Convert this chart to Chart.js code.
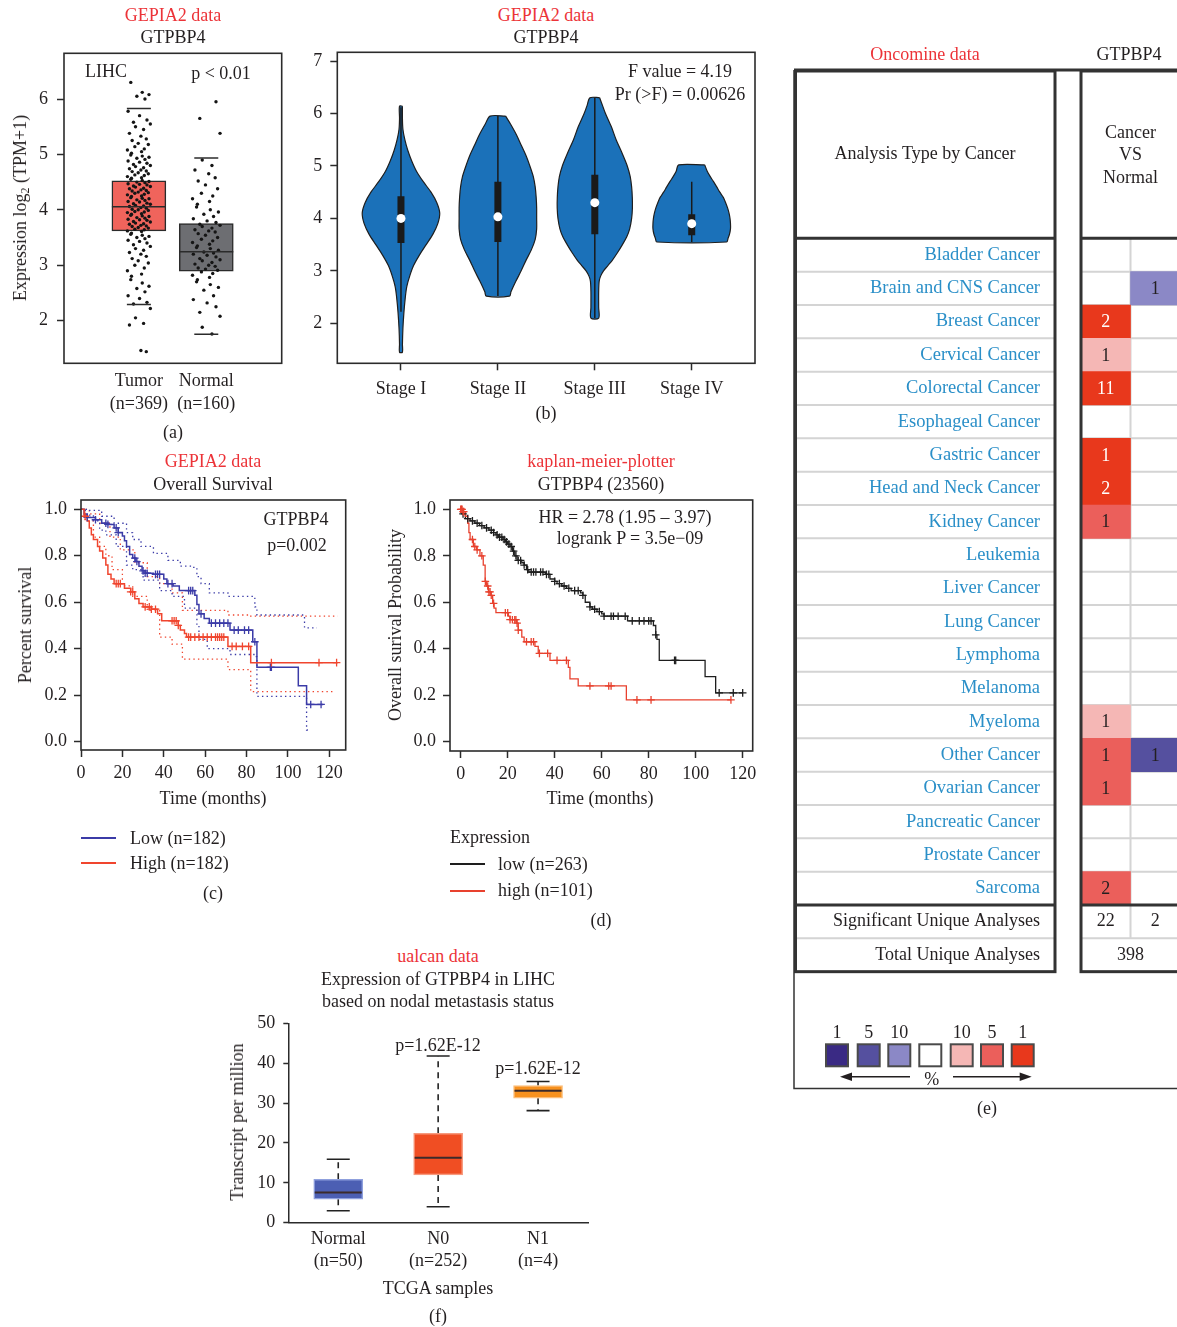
<!DOCTYPE html>
<html lang="en">
<head>
<meta charset="UTF-8">
<meta name="viewport" content="width=device-width, initial-scale=1.0">
<title>GTPBP4 - expression, stage, survival and Oncomine panels</title>
<script src="https://cdn.jsdelivr.net/npm/chart.js"></script>
<style>
  body { margin: 0; width: 1177px; height: 1327px; overflow: hidden; position: relative; background: #fff; color: #231f20; font-family: 'Liberation Serif', 'Times New Roman', serif; }
  canvas { position: absolute; }
  .t { position: absolute; white-space: nowrap; font-size: 18px; line-height: 1; transform: translate(-50%, -50%); }
  .t.left { transform: translate(0, -50%); }
  .t.rot { transform: translate(-50%, -50%) rotate(-90deg); }
  .t.src { color: #ec3338; }
  .t sub { font-size: 12px; vertical-align: -3px; line-height: 0; }
  .key { position: absolute; height: 2px; width: 35px; margin-top: -1px; }
</style>
</head>
<body>
<script>
// ---------- (a) GEPIA2 LIHC box plot ----------
const aGroups = [['Tumor', '(n=369)'], ['Normal', '(n=160)']];
const aYTicks = [2, 3, 4, 5, 6];
const aQ1 = [3.62, 2.895];
const aMedian = [4.055, 3.245];
const aQ3 = [4.525, 3.75];
const aLow = [2.29, 1.755];
const aHigh = [5.83, 4.935];
const tumorExpr = [
  6.30, 6.12, 6.08, 6.05, 6.00,
  5.78, 5.70, 5.62, 5.58, 5.55, 5.50, 5.45, 5.38, 5.33,
  5.28, 5.25, 5.20, 5.18, 5.14, 5.10, 5.08, 5.05, 5.02, 4.99, 4.97, 4.95, 4.93, 4.91,
  4.88, 4.86, 4.84, 4.82, 4.80, 4.78, 4.76, 4.74, 4.72, 4.70, 4.69, 4.67, 4.65, 4.63, 4.62, 4.60, 4.58, 4.57, 4.55, 4.53,
  4.51, 4.50, 4.49, 4.47, 4.46, 4.45, 4.43, 4.42, 4.41, 4.39, 4.38, 4.36, 4.35, 4.34, 4.32, 4.31, 4.30, 4.28, 4.27, 4.25,
  4.24, 4.22, 4.21, 4.20, 4.18, 4.17, 4.15, 4.14, 4.12, 4.11, 4.10, 4.08, 4.07, 4.06,
  4.04, 4.03, 4.01, 4.00, 3.99, 3.97, 3.96, 3.95, 3.93, 3.92, 3.90, 3.89, 3.88, 3.86, 3.85, 3.83, 3.82, 3.81, 3.79, 3.78,
  3.76, 3.75, 3.74, 3.72, 3.71, 3.70, 3.68, 3.67, 3.65, 3.64, 3.62, 3.61,
  3.58, 3.56, 3.54, 3.52, 3.50, 3.48, 3.45, 3.43, 3.40, 3.37, 3.34, 3.30, 3.27, 3.23, 3.20, 3.16, 3.12, 3.08, 3.04, 3.00,
  2.95, 2.90, 2.84, 2.80, 2.74, 2.68, 2.62, 2.58, 2.52, 2.45, 2.40, 2.33, 2.30,
  2.22, 2.05, 1.95, 1.92, 1.46, 1.44
];
const normalExpr = [
  5.95, 5.65, 5.38,
  4.90, 4.80, 4.72, 4.65, 4.58, 4.52, 4.45, 4.38, 4.30, 4.25, 4.20, 4.15, 4.10, 4.05, 4.00, 3.96, 3.92, 3.88, 3.84, 3.80, 3.77,
  3.74, 3.72, 3.70, 3.67, 3.64, 3.62, 3.60, 3.57, 3.54, 3.50, 3.47, 3.44, 3.41, 3.38, 3.35, 3.32, 3.30, 3.27,
  3.24, 3.22, 3.20, 3.18, 3.15, 3.12, 3.10, 3.08, 3.05, 3.02, 3.00, 2.98, 2.95, 2.93, 2.91,
  2.88, 2.85, 2.82, 2.78, 2.74, 2.70, 2.65, 2.60, 2.55, 2.45, 2.38, 2.32, 2.25, 2.15, 2.08, 1.88, 1.76
];

// ---------- (b) violin plot by stage ----------
const stages = ['Stage I', 'Stage II', 'Stage III', 'Stage IV'];
const bYTicks = [2, 3, 4, 5, 6, 7];
const violinLevels = [
  [6.14, 5.9, 5.7, 5.5, 5.3, 5.1, 4.9, 4.7, 4.5, 4.3, 4.1, 3.9, 3.7, 3.5, 3.3, 3.1, 2.9, 2.7, 2.5, 2.2, 1.9, 1.6, 1.45],
  [5.95, 5.8, 5.6, 5.4, 5.2, 5.0, 4.8, 4.6, 4.4, 4.2, 4.0, 3.8, 3.6, 3.4, 3.2, 3.0, 2.8, 2.6, 2.52],
  [6.3, 6.15, 6.0, 5.75, 5.5, 5.25, 5.0, 4.8, 4.6, 4.4, 4.2, 4.0, 3.8, 3.65, 3.5, 3.35, 3.2, 3.1, 3.0, 2.9, 2.8, 2.6, 2.3, 2.1],
  [5.02, 4.9, 4.8, 4.7, 4.6, 4.5, 4.4, 4.3, 4.2, 4.1, 4.0, 3.9, 3.8, 3.7, 3.62, 3.55]
];
const violinHalfWidth = [
  [0.015, 0.015, 0.02, 0.04, 0.07, 0.11, 0.16, 0.23, 0.31, 0.37, 0.40, 0.38, 0.33, 0.26, 0.19, 0.13, 0.09, 0.06, 0.045, 0.03, 0.02, 0.015, 0.015],
  [0.08, 0.13, 0.19, 0.24, 0.29, 0.33, 0.365, 0.385, 0.395, 0.40, 0.40, 0.40, 0.385, 0.345, 0.29, 0.24, 0.185, 0.135, 0.12],
  [0.05, 0.08, 0.11, 0.17, 0.22, 0.28, 0.335, 0.365, 0.38, 0.387, 0.388, 0.38, 0.36, 0.33, 0.285, 0.235, 0.18, 0.135, 0.09, 0.06, 0.045, 0.04, 0.04, 0.04],
  [0.134, 0.16, 0.19, 0.225, 0.258, 0.29, 0.326, 0.35, 0.37, 0.385, 0.395, 0.40, 0.40, 0.39, 0.375, 0.36]
];
const bQ1 = [3.53, 3.55, 3.70, 3.68];
const bMedian = [4.00, 4.03, 4.30, 3.90];
const bQ3 = [4.42, 4.70, 4.83, 4.08];
const bLow = [2.22, 2.52, 2.10, 3.55];
const bHigh = [6.12, 5.95, 6.30, 4.70];

// ---------- (c) GEPIA2 overall survival ----------
const survYTicks = [0, 0.2, 0.4, 0.6, 0.8, 1.0];
const timeTicks = [0, 20, 40, 60, 80, 100, 120];
const lowTime = [0, 1.5, 3, 7, 10, 13, 16, 18, 20, 21, 22, 23.5, 25, 26.5, 28, 29.5, 31, 35, 40, 41.5, 44.5, 47.5, 55, 56, 57, 59.5, 62, 72, 83, 85, 105, 109, 117];
const lowSurv = [1.0, 0.98, 0.965, 0.955, 0.94, 0.935, 0.92, 0.90, 0.885, 0.865, 0.84, 0.805, 0.79, 0.775, 0.755, 0.735, 0.725, 0.72, 0.70, 0.68, 0.67, 0.65, 0.63, 0.59, 0.55, 0.53, 0.51, 0.48, 0.43, 0.32, 0.24, 0.16, 0.16];
const highTime = [0, 1.5, 3, 4, 5, 6, 8, 9, 10.5, 12, 13, 14.5, 16, 21, 24, 26, 28, 30, 34, 37, 39, 47, 48, 50, 51, 71, 82, 124];
const highSurv = [1.0, 0.97, 0.95, 0.92, 0.89, 0.87, 0.84, 0.82, 0.79, 0.76, 0.72, 0.70, 0.68, 0.66, 0.645, 0.615, 0.595, 0.58, 0.57, 0.55, 0.52, 0.50, 0.48, 0.465, 0.45, 0.41, 0.34, 0.34];
const lowUpTime = [0, 3, 10, 16, 22, 25, 29, 35, 42, 48, 54, 56, 58, 62, 71, 84, 85, 107, 108, 114];
const lowUpSurv = [1.0, 0.995, 0.97, 0.94, 0.90, 0.87, 0.84, 0.81, 0.78, 0.755, 0.75, 0.71, 0.68, 0.64, 0.625, 0.58, 0.545, 0.545, 0.49, 0.49];
const lowLoTime = [0, 2, 6, 9, 12, 17, 22, 25, 30, 38, 44, 50, 56, 57, 61, 72, 84, 85, 109, 111];
const lowLoSurv = [1.0, 0.975, 0.95, 0.91, 0.89, 0.84, 0.76, 0.74, 0.695, 0.65, 0.625, 0.575, 0.50, 0.44, 0.40, 0.375, 0.366, 0.195, 0.05, 0.05];
const highUpTime = [0, 4, 9, 14, 19, 26, 32, 38, 44, 49, 71, 82, 124];
const highUpSurv = [1.0, 0.98, 0.94, 0.88, 0.825, 0.77, 0.71, 0.68, 0.64, 0.565, 0.545, 0.54, 0.54];
const highLoTime = [0, 2, 6, 9, 12, 15, 20, 25, 32, 38, 44, 49, 71, 82, 123];
const highLoSurv = [1.0, 0.95, 0.88, 0.84, 0.80, 0.74, 0.67, 0.625, 0.565, 0.45, 0.42, 0.355, 0.31, 0.215, 0.215];
const lowCensor = [3, 7, 12, 13, 17, 18, 26, 27, 30, 31, 32, 36, 37, 38, 42, 44, 52, 53, 54, 58, 63, 65, 67, 69, 71, 74, 76, 79, 81, 84, 91.5, 92, 111, 116];
const highCensor = [2, 17, 18, 19, 24, 25, 31, 33, 34, 36, 44, 45, 46, 47, 52, 53, 55, 57, 59, 61, 63, 65, 66, 67, 68, 69, 73, 75, 78, 81, 92, 115, 123.5];

// ---------- (d) kaplan-meier-plotter ----------
const kmLowTime = [0, 0.5, 2, 4, 6, 8, 10, 12, 14, 15, 16, 18, 19, 20, 21, 22, 23, 24, 26, 27, 28, 29, 36, 38, 40, 41, 43, 45, 47, 51, 52, 53, 55, 56, 58, 60, 61, 71, 82, 83, 83.5, 84.5, 104, 108.5, 120];
const kmLowSurv = [1.0, 0.98, 0.96, 0.95, 0.94, 0.93, 0.92, 0.91, 0.90, 0.89, 0.88, 0.87, 0.86, 0.85, 0.84, 0.82, 0.80, 0.78, 0.77, 0.76, 0.74, 0.73, 0.72, 0.70, 0.69, 0.68, 0.67, 0.66, 0.65, 0.64, 0.63, 0.60, 0.58, 0.57, 0.56, 0.55, 0.54, 0.52, 0.50, 0.46, 0.44, 0.35, 0.28, 0.21, 0.21];
const kmHighTime = [0, 1, 2, 3, 3.5, 4, 5.4, 6.8, 8.2, 9.6, 10.4, 11, 11.8, 12.8, 13.6, 14.2, 15, 20.3, 21, 23.8, 24.5, 26, 27, 31.6, 33, 38, 45.8, 46.5, 50, 70.5, 115];
const kmHighSurv = [1.0, 0.99, 0.97, 0.94, 0.90, 0.87, 0.84, 0.825, 0.80, 0.76, 0.69, 0.67, 0.645, 0.63, 0.595, 0.575, 0.555, 0.54, 0.525, 0.51, 0.48, 0.45, 0.43, 0.41, 0.38, 0.35, 0.32, 0.27, 0.24, 0.18, 0.18];
const kmLowCensor = [1, 3, 5, 7, 9, 11, 13, 14, 15.5, 16.5, 17.5, 18.5, 19.5, 20.5, 21.5, 22.5, 23.5, 24.5, 25.5, 27, 28.5, 30, 31, 32, 34, 35, 36.5, 37.5, 40, 42, 44, 46, 48.5, 50, 52, 55, 57, 59, 61, 64, 65, 67, 70, 73, 76, 78, 80, 81, 83, 91, 91.5, 110, 116, 120];
const kmHighCensor = [0, 0.3, 0.6, 1, 1.3, 5, 6, 7, 9, 10.5, 11.5, 12, 12.5, 13, 14, 19, 20, 21, 22, 23, 23.5, 24, 24.5, 28, 30, 31, 33.5, 37, 41, 45, 55, 63, 64, 75, 81, 115];

// ---------- (e) Oncomine table ----------
const cancers = ['Bladder Cancer', 'Brain and CNS Cancer', 'Breast Cancer', 'Cervical Cancer', 'Colorectal Cancer',
  'Esophageal Cancer', 'Gastric Cancer', 'Head and Neck Cancer', 'Kidney Cancer', 'Leukemia', 'Liver Cancer',
  'Lung Cancer', 'Lymphoma', 'Melanoma', 'Myeloma', 'Other Cancer', 'Ovarian Cancer', 'Pancreatic Cancer',
  'Prostate Cancer', 'Sarcoma'];
const upCounts = [0, 0, 2, 1, 11, 0, 1, 2, 1, 0, 0, 0, 0, 0, 1, 1, 1, 0, 0, 2];
const upRank = [0, 0, 1, 10, 1, 0, 1, 1, 5, 0, 0, 0, 0, 0, 10, 5, 5, 0, 0, 5];
const downCounts = [0, 1, 0, 0, 0, 0, 0, 0, 0, 0, 0, 0, 0, 0, 0, 1, 0, 0, 0, 0];
const downRank = [0, 10, 0, 0, 0, 0, 0, 0, 0, 0, 0, 0, 0, 0, 0, 5, 0, 0, 0, 0];
const significantUnique = [22, 2];
const totalUnique = 398;
const rankLegend = ['1', '5', '10', '', '10', '5', '1'];

// ---------- (f) UALCAN nodal metastasis ----------
const fGroups = [['Normal', '(n=50)'], ['N0', '(n=252)'], ['N1', '(n=4)']];
const fYTicks = [0, 10, 20, 30, 40, 50];
const fQ1 = [5.9, 11.95, 31.2];
const fMedian = [7.6, 16.3, 33.1];
const fQ3 = [10.9, 22.4, 34.4];
const fLow = [3.0, 4.0, 28.1];
const fHigh = [15.9, 41.8, 35.4];

// ---------- styles ----------
const FONT = "'Liberation Serif', 'Times New Roman', serif";
const INK = '#2b2b2b';
const jitter = [-0.12, 0.05, 0.15, -0.03, 0.09, -0.16, 0.01, 0.12, -0.08, 0.17, -0.05, 0.07, -0.14, 0.03, 0.11, -0.10, -0.01, 0.14, -0.06, 0.08, -0.17, 0.04, -0.11];
const upColors = { 1: '#e8381c', 5: '#eb5f5b', 10: '#f5b7b5' };
const downColors = { 1: '#3a2a84', 5: '#55509f', 10: '#8b88c6' };
const legendColors = ['#3a2a84', '#55509f', '#8b88c6', '#ffffff', '#f5b7b5', '#eb5f5b', '#e8381c'];

Chart.defaults.font.family = FONT;
Chart.defaults.font.size = 18;
Chart.defaults.color = '#231f20';
Chart.defaults.animation = false;
Chart.defaults.events = [];
Chart.defaults.plugins.legend.display = false;
Chart.defaults.plugins.tooltip.enabled = false;

const frame = {
  id: 'frame',
  afterDatasetsDraw(chart, args, opts) {
    if (!opts.width) return;
    const { ctx, chartArea: a } = chart;
    ctx.save();
    ctx.lineWidth = opts.width;
    ctx.strokeStyle = opts.color || INK;
    ctx.strokeRect(a.left, a.top, a.right - a.left, a.bottom - a.top);
    ctx.restore();
  }
};
Chart.register(frame);

function makeCanvas(box) {
  const c = document.createElement('canvas');
  c.width = box[2];
  c.height = box[3];
  c.style.left = box[0] + 'px';
  c.style.top = box[1] + 'px';
  document.body.appendChild(c);
  return c.getContext('2d');
}

// padding so the chart area lands on the wanted page rectangle
// (keep top/right >= 30px: wide 'line' point styles reserve that much overflow)
function padFor(box, area, yw, xh) {
  return { left: area[0] - box[0] - yw, top: area[1] - box[1], right: box[0] + box[2] - area[2], bottom: box[1] + box[3] - area[3] - xh };
}

function fit(size) {
  return s => {
    if (s.isHorizontal()) { s.height = size; s.paddingLeft = 0; s.paddingRight = 0; }
    else { s.width = size; s.paddingTop = 0; s.paddingBottom = 0; }
  };
}

function fixTicks(values) {
  return s => { s.ticks = values.map(v => ({ value: v })); };
}

function text(str, x, y, cls, html) {
  const d = document.createElement('div');
  d.className = 't ' + (cls || '');
  if (html) d.innerHTML = str; else d.textContent = str;
  d.style.left = x + 'px';
  d.style.top = y + 'px';
  document.body.appendChild(d);
}

function keyLine(x, y, color) {
  const d = document.createElement('div');
  d.className = 'key';
  d.style.left = x + 'px';
  d.style.top = y + 'px';
  d.style.background = color;
  document.body.appendChild(d);
}

const outTicks = { drawOnChartArea: false, tickLength: 7, tickColor: INK, tickWidth: 1.5 };

// ================= (a) =================
const boxA = [0, 15, 320, 425], areaA = [64, 53.3, 281.7, 363.3];
new Chart(makeCanvas(boxA), {
  type: 'scatter',
  data: {
    datasets: [
      { type: 'bar', data: aQ1.map((q, i) => ({ x: i + 1, y: [q, aQ3[i]] })), backgroundColor: ['#f0645c', '#6d6e72'],
        borderColor: INK, borderWidth: 1.5, borderSkipped: false, barThickness: 54, order: 6 },
      { data: tumorExpr.map((v, i) => ({ x: 1 + jitter[i % jitter.length], y: v })), pointRadius: 1.7,
        backgroundColor: '#151515', borderWidth: 0, order: 4 },
      { data: normalExpr.map((v, i) => ({ x: 2 + 1.2 * jitter[(i + 7) % jitter.length], y: v })), pointRadius: 1.7,
        backgroundColor: '#151515', borderWidth: 0, order: 4 },
      { data: aMedian.map((v, i) => ({ x: i + 1, y: v })), pointStyle: 'line', pointRadius: 27,
        borderColor: INK, borderWidth: 1.5, order: 1 },
      { data: aLow.concat(aHigh).map((v, i) => ({ x: (i % 2) + 1, y: v })), pointStyle: 'line', pointRadius: 12,
        borderColor: INK, borderWidth: 1.5, order: 2 }
    ]
  },
  options: {
    responsive: false,
    layout: { padding: padFor(boxA, areaA, 40, 60) },
    plugins: { frame: { width: 1.6 } },
    scales: {
      x: { type: 'linear', offset: false, min: -0.111, max: 3.119, afterBuildTicks: fixTicks([1, 2]),
        ticks: { callback: v => aGroups[v - 1], padding: 6, font: { size: 18, lineHeight: 1.28 } },
        grid: { display: false, drawTicks: false, offset: false }, border: { display: false }, afterFit: fit(60) },
      y: { type: 'linear', beginAtZero: false, min: 1.23, max: 6.825, afterBuildTicks: fixTicks(aYTicks), ticks: { padding: 9 },
        grid: outTicks, border: { display: false }, afterFit: fit(40) }
    }
  }
});
text('GEPIA2 data', 173, 15, 'src');
text('GTPBP4', 173, 37);
text('LIHC', 106, 71);
text('p &lt; 0.01', 221, 73, '', true);
text('Expression log<sub>2</sub> (TPM+1)', 20, 208, 'rot', true);
text('(a)', 173, 432);

// ================= (b) =================
function violinShape(i) {
  const c = i + 1, ys = violinLevels[i], ws = violinHalfWidth[i];
  const right = ys.map((y, k) => ({ x: c + ws[k], y }));
  const left = ys.map((y, k) => ({ x: c - ws[k], y })).reverse();
  return right.concat(left, [right[0]]);
}
const bSets = [];
stages.forEach((s, i) => {
  bSets.push({ data: violinShape(i), showLine: true, fill: 'shape', backgroundColor: '#1b71b9', borderColor: '#1f1f1f',
    borderWidth: 1.2, pointRadius: 0, tension: 0.3, order: 10 });
  bSets.push({ data: [{ x: i + 1, y: bLow[i] }, { x: i + 1, y: bHigh[i] }], showLine: true, borderColor: '#1a1a1a',
    borderWidth: 1.5, pointRadius: 0, order: 5 });
  bSets.push({ data: [{ x: i + 1, y: bQ1[i] }, { x: i + 1, y: bQ3[i] }], showLine: true, borderColor: '#1a1a1a',
    borderWidth: 7, pointRadius: 0, order: 4 });
});
bSets.push({ data: bMedian.map((v, i) => ({ x: i + 1, y: v })), pointRadius: 4.5, backgroundColor: '#ffffff', borderWidth: 0, order: 1 });

const boxB = [290, 40, 475, 375], areaB = [337.3, 52.3, 755, 363.3];
new Chart(makeCanvas(boxB), {
  type: 'scatter',
  data: { datasets: bSets },
  options: {
    responsive: false,
    layout: { padding: padFor(boxB, areaB, 40, 40) },
    plugins: { frame: { width: 1.6 } },
    scales: {
      x: { min: 0.343, max: 4.653, afterBuildTicks: fixTicks([1, 2, 3, 4]),
        ticks: { callback: v => stages[v - 1], padding: 8 }, grid: outTicks, border: { display: false }, afterFit: fit(40) },
      y: { min: 1.238, max: 7.166, afterBuildTicks: fixTicks(bYTicks), ticks: { padding: 8 },
        grid: outTicks, border: { display: false }, afterFit: fit(40) }
    }
  }
});
text('GEPIA2 data', 546, 15, 'src');
text('GTPBP4', 546, 37);
text('F value = 4.19', 680, 71);
text('Pr (&gt;F) = 0.00626', 680, 94, '', true);
text('(b)', 546, 413);

// ================= survival helpers =================
function steps(t, s) { return t.map((v, i) => ({ x: v, y: s[i] })); }
function survAt(t, s, time) {
  let v = s[0];
  for (let i = 0; i < t.length; i++) if (t[i] <= time) v = s[i];
  return v;
}
function censorMarks(times, t, s) { return times.map(c => ({ x: c, y: survAt(t, s, c) })); }
function stepLine(t, s, color, width, dash) {
  return { data: steps(t, s), showLine: true, stepped: true, borderColor: color, borderWidth: width,
    borderDash: dash || [], pointRadius: 0, order: dash ? 5 : 3 };
}
function crosses(times, t, s, color) {
  return { data: censorMarks(times, t, s), pointStyle: 'cross', pointRadius: 3.8, borderColor: color, borderWidth: 1.3, order: 1 };
}
function survScales(xmin, xmax) {
  return {
    x: { min: xmin, max: xmax, afterBuildTicks: fixTicks(timeTicks), ticks: { padding: 5 },
      grid: outTicks, border: { display: false }, afterFit: fit(35) },
    y: { min: -0.036, max: 1.04, afterBuildTicks: fixTicks(survYTicks), ticks: { padding: 7, callback: v => v.toFixed(1) },
      grid: outTicks, border: { display: false }, afterFit: fit(50) }
  };
}

// ================= (c) =================
const BLUE = '#3b3ba7', RED_C = '#f0452e';
const dots = [1.4, 3.2];
const boxC = [0, 490, 360, 330], areaC = [81, 500, 345.7, 750];
new Chart(makeCanvas(boxC), {
  type: 'scatter',
  data: {
    datasets: [
      stepLine(lowUpTime, lowUpSurv, BLUE, 1.3, dots),
      stepLine(lowLoTime, lowLoSurv, BLUE, 1.3, dots),
      stepLine(highUpTime, highUpSurv, RED_C, 1.3, dots),
      stepLine(highLoTime, highLoSurv, RED_C, 1.3, dots),
      stepLine(highTime, highSurv, RED_C, 1.5),
      stepLine(lowTime, lowSurv, BLUE, 1.5),
      crosses(highCensor, highTime, highSurv, RED_C),
      crosses(lowCensor, lowTime, lowSurv, BLUE)
    ]
  },
  options: {
    responsive: false,
    layout: { padding: padFor(boxC, areaC, 50, 35) },
    plugins: { frame: { width: 1.6 } },
    scales: survScales(0, 127.9)
  }
});
text('GEPIA2 data', 213, 461, 'src');
text('Overall Survival', 213, 484);
text('GTPBP4', 296, 519);
text('p=0.002', 297, 545);
text('Percent survival', 25, 625, 'rot');
text('Time (months)', 213, 798);
keyLine(81, 838, BLUE);
text('Low (n=182)', 130, 838, 'left');
keyLine(81, 863, RED_C);
text('High (n=182)', 130, 863, 'left');
text('(c)', 213, 893);

// ================= (d) =================
const BLACK = '#1e1e1e', RED_D = '#e8412e';
const boxD = [370, 490, 390, 330], areaD = [450, 500, 752.7, 751];
const dScales = survScales(-4.55, 124.26);
dScales.y.min = -0.04;
new Chart(makeCanvas(boxD), {
  type: 'scatter',
  data: {
    datasets: [
      stepLine(kmHighTime, kmHighSurv, RED_D, 1.3),
      stepLine(kmLowTime, kmLowSurv, BLACK, 1.3),
      crosses(kmHighCensor, kmHighTime, kmHighSurv, RED_D),
      crosses(kmLowCensor, kmLowTime, kmLowSurv, BLACK)
    ]
  },
  options: {
    responsive: false,
    layout: { padding: padFor(boxD, areaD, 50, 35) },
    plugins: { frame: { width: 1.6 } },
    scales: dScales
  }
});
text('kaplan-meier-plotter', 601, 461, 'src');
text('GTPBP4 (23560)', 601, 484);
text('HR = 2.78 (1.95 \u2013 3.97)', 625, 517);
text('logrank P = 3.5e\u221209', 630, 538);
text('Overall surival Probability', 395, 625, 'rot');
text('Time (months)', 600, 798);
text('Expression', 450, 837, 'left');
keyLine(450, 864, BLACK);
text('low (n=263)', 498, 864, 'left');
keyLine(450, 891, RED_D);
text('high (n=101)', 498, 890, 'left');
text('(d)', 601, 920);

// ================= (e) =================
const boxE = [790, 60, 400, 1040], areaE = [1081, 238.3, 1180, 905];
const oncomineTable = {
  id: 'oncomineTable',
  beforeDatasetsDraw(chart) {
    const { ctx, chartArea: a } = chart;
    const rowH = (a.bottom - a.top) / cancers.length;
    const xm = chart.scales.x.getPixelForValue(1);
    ctx.save();
    ctx.strokeStyle = '#d4d4d4';
    ctx.lineWidth = 2;
    ctx.beginPath();
    for (let i = 1; i <= cancers.length + 1; i++) {
      if (i === cancers.length) continue;
      const y = a.top + i * rowH;
      ctx.moveTo(6, y); ctx.lineTo(a.left - 26, y);
      ctx.moveTo(a.left, y); ctx.lineTo(chart.width, y);
    }
    ctx.moveTo(xm, a.top); ctx.lineTo(xm, a.bottom + rowH);
    ctx.stroke();
    ctx.restore();
  },
  afterDatasetsDraw(chart) {
    const { ctx, chartArea: a, scales: { x } } = chart;
    const rowH = (a.bottom - a.top) / cancers.length;
    const top = 11, bottom = a.bottom + 2 * rowH;
    ctx.save();
    ctx.font = '18px ' + FONT;
    ctx.textAlign = 'center';
    ctx.textBaseline = 'middle';
    [upCounts, downCounts].forEach((counts, d) => {
      const ranks = d === 0 ? upRank : downRank;
      chart.getDatasetMeta(d).data.forEach((el, i) => {
        if (!counts[i]) return;
        ctx.fillStyle = ranks[i] === 1 ? '#ffffff' : '#231f20';
        ctx.fillText(String(counts[i]), (el.x + el.base) / 2, el.y + 1);
      });
    });
    // borders
    ctx.strokeStyle = '#333333';
    ctx.lineWidth = 3;
    ctx.strokeRect(5.5, top, a.left - 26 - 5.5, bottom - top);
    ctx.strokeRect(a.left, top, chart.width + 10 - a.left, bottom - top);
    ctx.beginPath();
    ctx.moveTo(5.5, a.top); ctx.lineTo(a.left - 26, a.top);
    ctx.moveTo(a.left, a.top); ctx.lineTo(chart.width, a.top);
    ctx.moveTo(5.5, a.bottom); ctx.lineTo(a.left - 26, a.bottom);
    ctx.moveTo(a.left, a.bottom); ctx.lineTo(chart.width, a.bottom);
    ctx.moveTo(4, 10); ctx.lineTo(chart.width, 10);
    ctx.stroke();
    ctx.lineWidth = 1.5;
    ctx.beginPath();
    ctx.moveTo(4, 10); ctx.lineTo(4, 1028.5); ctx.lineTo(chart.width, 1028.5);
    ctx.stroke();
    // headers
    ctx.fillStyle = '#231f20';
    ctx.fillText('Analysis Type by Cancer', 135, 94);
    const xm = x.getPixelForValue(1);
    ctx.fillText('Cancer', xm, 73);
    ctx.fillText('VS', xm, 95);
    ctx.fillText('Normal', xm, 118);
    // summary rows
    ctx.fillText(String(significantUnique[0]), x.getPixelForValue(0.5), a.bottom + rowH / 2);
    ctx.fillText(String(significantUnique[1]), x.getPixelForValue(1.5), a.bottom + rowH / 2);
    ctx.fillText(String(totalUnique), xm, a.bottom + 1.5 * rowH);
    ctx.textAlign = 'right';
    ctx.fillText('Significant Unique Analyses', a.left - 41, a.bottom + rowH / 2);
    ctx.fillText('Total Unique Analyses', a.left - 41, a.bottom + 1.5 * rowH);
    // colour key
    const sqX = [36, 67.7, 98.3, 129.3, 160.7, 191, 221.7];
    ctx.textAlign = 'center';
    ctx.lineWidth = 2;
    ctx.strokeStyle = '#4a4a4a';
    sqX.forEach((sx, i) => {
      ctx.fillStyle = legendColors[i];
      ctx.fillRect(sx, 984.3, 22, 22);
      ctx.strokeRect(sx, 984.3, 22, 22);
      ctx.fillStyle = '#231f20';
      ctx.fillText(rankLegend[i], sx + 11, 973.5);
    });
    ctx.fillText('%', 141.7, 1020);
    ctx.strokeStyle = '#231f20';
    ctx.lineWidth = 1.5;
    ctx.beginPath();
    ctx.moveTo(120, 1016.7); ctx.lineTo(58, 1016.7);
    ctx.moveTo(163, 1016.7); ctx.lineTo(233, 1016.7);
    ctx.stroke();
    ctx.beginPath();
    ctx.moveTo(50, 1016.7); ctx.lineTo(62, 1012.5); ctx.lineTo(62, 1020.9); ctx.closePath();
    ctx.moveTo(241.7, 1016.7); ctx.lineTo(229.7, 1012.5); ctx.lineTo(229.7, 1020.9); ctx.closePath();
    ctx.fill();
    ctx.restore();
  }
};
new Chart(makeCanvas(boxE), {
  type: 'bar',
  data: {
    labels: cancers,
    datasets: [
      { data: upRank.map(r => (r ? [0, 1] : null)), backgroundColor: upRank.map(r => upColors[r] || 'transparent') },
      { data: downRank.map(r => (r ? [1, 2] : null)), backgroundColor: downRank.map(r => downColors[r] || 'transparent') }
    ]
  },
  options: {
    responsive: false,
    indexAxis: 'y',
    layout: { padding: padFor(boxE, areaE, 291, 0) },
    datasets: { bar: { barPercentage: 1, categoryPercentage: 1, grouped: false, borderWidth: 0 } },
    scales: {
      x: { type: 'linear', min: 0, max: 2, display: false },
      y: { type: 'category', offset: true, ticks: { color: '#2a8fc8', padding: 41, autoSkip: false, font: { size: 18.5 } },
        grid: { display: false, drawTicks: false }, border: { display: false }, afterFit: fit(291) }
    }
  },
  plugins: [oncomineTable]
});
text('Oncomine data', 925, 54, 'src');
text('GTPBP4', 1129, 54);
text('(e)', 987, 1108);

// ================= (f) =================
const fColors = ['#4c5fb3', '#f04e23', '#f7911e'];
const fEdges = ['#8fa0dd', '#f79a7e', '#fbbd78'];
const fSets = [];
fQ1.forEach((q, i) => {
  fSets.push({ data: [{ x: i + 1, y: fQ3[i] }, { x: i + 1, y: fHigh[i] }], showLine: true, borderColor: '#222',
    borderWidth: 1.6, borderDash: [6, 5], pointRadius: 0, order: 6 });
  fSets.push({ data: [{ x: i + 1, y: q }, { x: i + 1, y: fLow[i] }], showLine: true, borderColor: '#222',
    borderWidth: 1.6, borderDash: [6, 5], pointRadius: 0, order: 6 });
});
fSets.push({ type: 'bar', data: fQ1.map((q, i) => ({ x: i + 1, y: [q, fQ3[i]] })), backgroundColor: fColors,
  borderColor: fEdges, borderWidth: 1.5, borderSkipped: false, barThickness: 49, order: 5 });
fSets.push({ data: fMedian.map((v, i) => ({ x: i + 1, y: v })), pointStyle: 'line', pointRadius: 23.5,
  borderColor: '#3b2b2b', borderWidth: 2, order: 2 });
fSets.push({ data: fLow.concat(fHigh).map((v, i) => ({ x: (i % 3) + 1, y: v })), pointStyle: 'line', pointRadius: 11.5,
  borderColor: '#222', borderWidth: 1.6, order: 3 });

const boxF = [220, 985, 400, 315], areaF = [288.3, 1023.3, 588, 1222.7];
new Chart(makeCanvas(boxF), {
  type: 'scatter',
  data: { datasets: fSets },
  options: {
    responsive: false,
    layout: { padding: padFor(boxF, areaF, 45, 55) },
    scales: {
      x: { type: 'linear', offset: false, min: 0.5, max: 3.5, afterBuildTicks: fixTicks([1, 2, 3]),
        ticks: { callback: v => fGroups[v - 1], padding: 5, font: { size: 18, lineHeight: 1.245 } },
        grid: { display: false, drawTicks: false, offset: false }, border: { display: true, color: INK, width: 1.5 }, afterFit: fit(55) },
      y: { type: 'linear', beginAtZero: false, min: 0, max: 50, afterBuildTicks: fixTicks(fYTicks), ticks: { padding: 8 },
        grid: { drawOnChartArea: false, tickLength: 5, tickColor: INK, tickWidth: 1.5 },
        border: { display: true, color: INK, width: 1.5 }, afterFit: fit(45) }
    }
  }
});
text('ualcan data', 438, 956, 'src');
text('Expression of GTPBP4 in LIHC', 438, 979);
text('based on nodal metastasis status', 438, 1001);
text('p=1.62E-12', 438, 1045);
text('p=1.62E-12', 538, 1068);
text('Transcript per million', 237, 1122, 'rot');
text('TCGA samples', 438, 1288);
text('(f)', 438, 1316);
</script>
</body>
</html>
